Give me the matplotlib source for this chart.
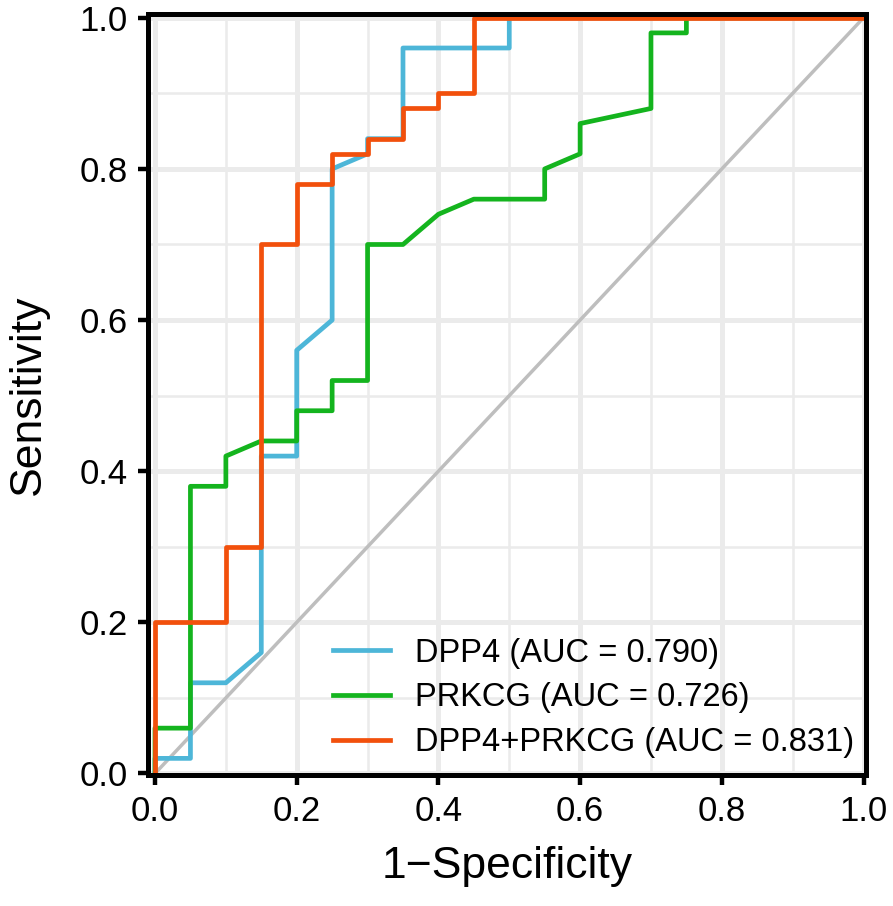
import matplotlib
matplotlib.use("Agg")
import matplotlib.pyplot as plt
from matplotlib.ticker import MultipleLocator

plt.rcParams["font.family"] = ["Liberation Sans", "DejaVu Sans"]

# ROC curve points (1-specificity, sensitivity)
dpp4_fpr = [0, 0, 0.05, 0.05, 0.10, 0.15, 0.15, 0.20, 0.20, 0.25, 0.25, 0.30, 0.30, 0.35, 0.35, 0.50, 0.50, 1.0]
dpp4_tpr = [0, 0.02, 0.02, 0.12, 0.12, 0.16, 0.42, 0.42, 0.56, 0.60, 0.80, 0.82, 0.84, 0.84, 0.96, 0.96, 1.0, 1.0]

prkcg_fpr = [0, 0, 0.05, 0.05, 0.10, 0.10, 0.15, 0.20, 0.20, 0.25, 0.25, 0.30, 0.30, 0.35, 0.40, 0.45,
             0.55, 0.55, 0.60, 0.60, 0.70, 0.70, 0.75, 0.75, 1.0]
prkcg_tpr = [0, 0.06, 0.06, 0.38, 0.38, 0.42, 0.44, 0.44, 0.48, 0.48, 0.52, 0.52, 0.70, 0.70, 0.74, 0.76,
             0.76, 0.80, 0.82, 0.86, 0.88, 0.98, 0.98, 1.0, 1.0]

comb_fpr = [0, 0, 0.10, 0.10, 0.15, 0.15, 0.20, 0.20, 0.25, 0.25, 0.30, 0.30, 0.35, 0.35, 0.40, 0.40, 0.45, 0.45, 1.0]
comb_tpr = [0, 0.20, 0.20, 0.30, 0.30, 0.70, 0.70, 0.78, 0.78, 0.82, 0.82, 0.84, 0.84, 0.88, 0.88, 0.90, 0.90, 1.0, 1.0]

ticks = [0, 0.2, 0.4, 0.6, 0.8, 1.0]
tick_labels = ["0.0", "0.2", "0.4", "0.6", "0.8", "1.0"]
labels = ["DPP4 (AUC = 0.790)", "PRKCG (AUC = 0.726)", "DPP4+PRKCG (AUC = 0.831)"]
colors = ["#4DB6D8", "#14B41E", "#F2500C"]

fig = plt.figure(figsize=(8.93, 9.06), dpi=100)
ax = fig.add_axes([148 / 893, 1 - 775 / 906, 718 / 893, 761 / 906])

ax.set_xlim(-0.0099, 1.0035)
ax.set_ylim(-0.002, 1.005)

ax.set_xticks(ticks)
ax.set_xticklabels(tick_labels)
ax.set_yticks(ticks)
ax.set_yticklabels(tick_labels)
ax.xaxis.set_minor_locator(MultipleLocator(0.1))
ax.yaxis.set_minor_locator(MultipleLocator(0.1))
ax.grid(which="major", color="#EBEBEB", lw=3.6)
ax.grid(which="minor", color="#EBEBEB", lw=1.8)
ax.set_axisbelow(True)
ax.tick_params(which="minor", length=0)
ax.tick_params(which="major", direction="out", length=7.5, width=3.2,
               labelsize=25, pad=7, color="black")

for s in ax.spines.values():
    s.set_linewidth(3.6)
    s.set_color("black")

ax.plot([0, 1], [0, 1], color="#BEBEBE", lw=2.5)
ax.plot(dpp4_fpr, dpp4_tpr, color=colors[0], lw=3.4, label=labels[0])
ax.plot(prkcg_fpr, prkcg_tpr, color=colors[1], lw=3.4, label=labels[1])
ax.plot(comb_fpr, comb_tpr, color=colors[2], lw=3.4, label=labels[2])

ax.set_xlabel("1\u2212Specificity", fontsize=32, labelpad=13)
ax.set_ylabel("Sensitivity", fontsize=32, labelpad=22)

ax.legend(loc="lower right", bbox_to_anchor=(854 / 893, 1 - 758 / 906),
          bbox_transform=fig.transFigure, frameon=False, fontsize=23.5,
          handlelength=1.75, handletextpad=0.75, labelspacing=0.42,
          borderpad=0, borderaxespad=0)

fig.savefig("out.png", dpi=100)
